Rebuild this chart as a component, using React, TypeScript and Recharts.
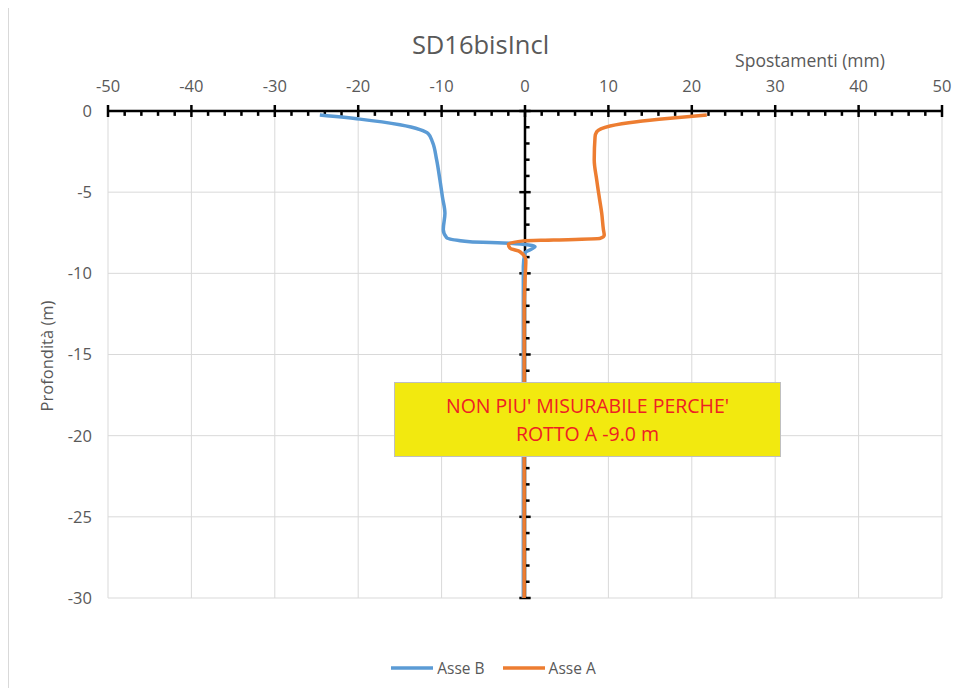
import React from "react"
import {
  ScatterChart,
  Scatter,
  XAxis,
  YAxis,
  CartesianGrid,
  ReferenceLine,
  Legend,
} from "recharts"

// displacement (mm) vs depth (m)
const asseBx = [-24.6, -19.8, -15.0, -12.6, -11.6, -11.1, -10.6, -10.2, -9.9, -9.6, -9.8, -9.4, -6.6, -1.8, 1.2, 0, -0.2, -0.2, -0.2, -0.2, -0.2, -0.2]
const asseBdepth = [-0.25, -0.5, -0.85, -1.15, -1.4, -1.9, -3.0, -4.25, -5.3, -6.3, -7.3, -7.8, -8.05, -8.15, -8.35, -8.75, -9.6, -12, -15, -20, -25, -30]

const asseAx = [21.8, 17.4, 13.4, 10.2, 8.6, 8.4, 8.3, 8.6, 8.9, 9.2, 9.4, 9.5, 9.0, 3.4, -0.2, -2.0, -1.8, -0.6, 0.1, 0.0, -0.1, -0.1, -0.1, -0.1, -0.1]
const asseAdepth = [-0.25, -0.45, -0.66, -0.92, -1.28, -1.6, -3.0, -4.25, -5.3, -6.3, -7.3, -7.65, -7.85, -7.95, -8.0, -8.2, -8.45, -8.67, -9.2, -10.4, -12, -15, -20, -25, -30]

const seriesOrder = ["Asse B", "Asse A"]
const xTicks = [-50, -40, -30, -20, -10, 0, 10, 20, 30, 40, 50]
const yTicks = [-30, -25, -20, -15, -10, -5, 0]

const BLUE = "#5b9bd5"
const ORANGE = "#ed7d31"
const GRAY = "#595959"
const FONT = "'Open Sans', sans-serif"

const toPoints = (xs: number[], ys: number[]) => xs.map((x, i) => ({ x, y: ys[i] }))

// minor ticks on the axes: every 2 mm / every 1 m
const xMinor: number[] = []
for (let v = -48; v <= 48; v += 2) if (v % 10 !== 0) xMinor.push(v)
const yMinor: number[] = []
for (let v = -29; v <= -1; v++) if (v % 5 !== 0) yMinor.push(v)

const LegendContent = (props: any) => {
  const items = [...(props.payload || [])].sort(
    (a: any, b: any) => seriesOrder.indexOf(a.value) - seriesOrder.indexOf(b.value),
  )
  return (
    <div style={{ display: "flex", justifyContent: "center", alignItems: "center", paddingLeft: 26, fontFamily: FONT, fontSize: 15.5, color: GRAY }}>
      {items.map((it: any) => (
        <div key={it.value} style={{ display: "flex", alignItems: "center", margin: "0 9px" }}>
          <svg width={42} height={6} style={{ marginRight: 4 }}>
            <line x1={0} y1={3} x2={42} y2={3} stroke={it.color} strokeWidth={3.5} />
          </svg>
          <span>{it.value}</span>
        </div>
      ))}
    </div>
  )
}

export default function App() {
  const axisLine = { stroke: "#000", strokeWidth: 2.5, ifOverflow: "visible" as const }
  return (
    <div style={{ position: "relative", width: 945, height: 680 }}>
      <div style={{ position: "absolute", left: 0, top: -8, width: 1, height: 695, background: "#d9d9d9" }} />
      <ScatterChart width={945} height={680} margin={{ top: 63, left: 40, right: 11, bottom: 66 }}>
        <CartesianGrid stroke="#d9d9d9" strokeWidth={1} />
        <XAxis
          type="number"
          dataKey="x"
          orientation="top"
          domain={[-50, 50]}
          ticks={xTicks}
          height={40}
          axisLine={false}
          tickLine={false}
          tickSize={0}
          tickMargin={19}
          tick={{ fill: GRAY, fontSize: 16.5, fontFamily: FONT }}
        />
        <YAxis
          type="number"
          dataKey="y"
          domain={[-30, 0]}
          ticks={yTicks}
          width={60}
          axisLine={false}
          tickLine={false}
          tickSize={0}
          tickMargin={16}
          tick={{ fill: GRAY, fontSize: 16.5, fontFamily: FONT }}
        />
        <ReferenceLine segment={[{ x: -50, y: 0 }, { x: 50, y: 0 }]} {...axisLine} />
        <ReferenceLine segment={[{ x: 0, y: 0 }, { x: 0, y: -30 }]} {...axisLine} />
        {xTicks.map((v) => (
          <ReferenceLine key={"xM" + v} segment={[{ x: v, y: 0.37 }, { x: v, y: -0.37 }]} {...axisLine} />
        ))}
        {xMinor.map((v) => (
          <ReferenceLine key={"xm" + v} segment={[{ x: v, y: 0 }, { x: v, y: -0.3 }]} {...axisLine} />
        ))}
        {yTicks.map((v) => (
          <ReferenceLine key={"yM" + v} segment={[{ x: -0.68, y: v }, { x: 0.68, y: v }]} {...axisLine} />
        ))}
        {yMinor.map((v) => (
          <ReferenceLine key={"ym" + v} segment={[{ x: 0, y: v }, { x: 0.55, y: v }]} {...axisLine} />
        ))}
        <Scatter
          name="Asse B"
          data={toPoints(asseBx, asseBdepth)}
          fill={BLUE}
          line={{ stroke: BLUE, strokeWidth: 3.5 }}
          lineJointType="monotoneY"
          shape={() => <g />}
          legendType="line"
          isAnimationActive={false}
        />
        <Scatter
          name="Asse A"
          data={toPoints(asseAx, asseAdepth)}
          fill={ORANGE}
          line={{ stroke: ORANGE, strokeWidth: 3.5 }}
          lineJointType="monotoneY"
          shape={() => <g />}
          legendType="line"
          isAnimationActive={false}
        />
        <Legend verticalAlign="bottom" height={24} wrapperStyle={{ bottom: 7, left: 0, width: 945 }} content={LegendContent} />
      </ScatterChart>

      <div style={{ position: "absolute", left: 0, width: 945, top: 20, textAlign: "center", fontFamily: FONT, fontSize: 25.5, color: GRAY, lineHeight: "32px" }}>
        SD16bisIncl
      </div>
      <div style={{ position: "absolute", left: 702, width: 200, top: 40, textAlign: "center", fontFamily: FONT, fontSize: 17.5, color: GRAY, lineHeight: "24px" }}>
        Spostamenti (mm)
      </div>
      <div
        style={{
          position: "absolute",
          left: 39 - 100,
          top: 348 - 12,
          width: 200,
          height: 24,
          lineHeight: "24px",
          textAlign: "center",
          transform: "rotate(-90deg)",
          fontFamily: FONT,
          fontSize: 16.5,
          color: GRAY,
        }}
      >
        Profondità (m)
      </div>
      <div
        style={{
          position: "absolute",
          left: 386,
          top: 374,
          width: 387,
          height: 75,
          boxSizing: "border-box",
          background: "#f2e90f",
          border: "1.5px solid #bfbfbf",
          display: "flex",
          flexDirection: "column",
          justifyContent: "center",
          alignItems: "center",
          fontFamily: FONT,
          fontSize: 19.5,
          color: "#ee2024",
          lineHeight: "28px",
        }}
      >
        <div>NON PIU' MISURABILE PERCHE'</div>
        <div>ROTTO A -9.0 m</div>
      </div>
    </div>
  )
}
